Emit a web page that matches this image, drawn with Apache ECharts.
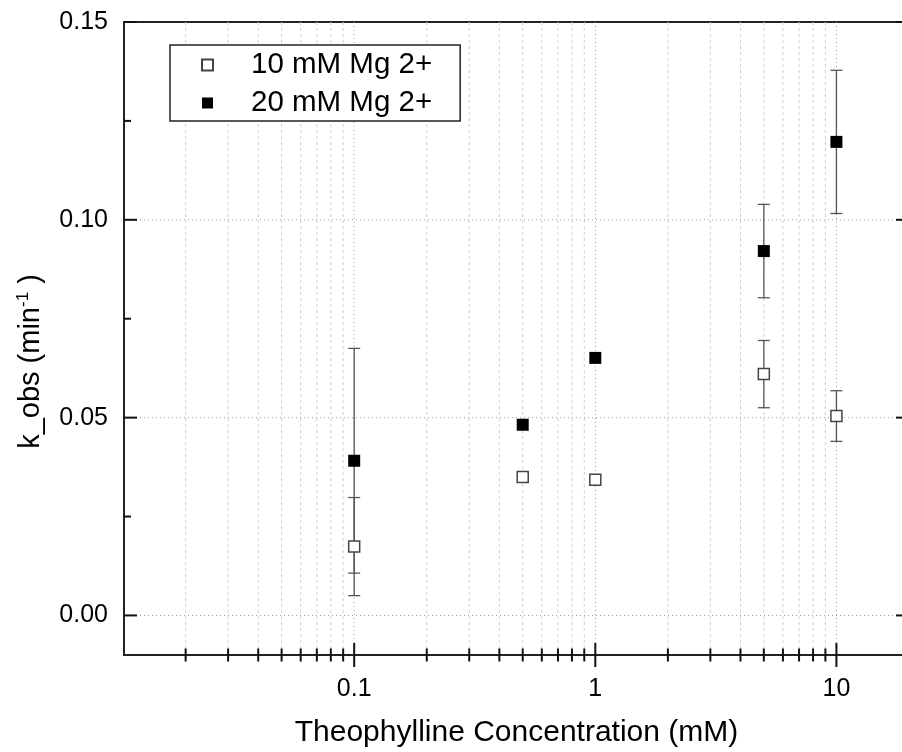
<!DOCTYPE html>
<html>
<head>
<meta charset="utf-8">
<script src="https://cdn.jsdelivr.net/npm/echarts@6/dist/echarts.min.js"></script>
<style>html,body{margin:0;padding:0;background:#fff}#c{width:902px;height:752px}</style>
</head>
<body>
<div id="c"></div>
<script>
// ---- data ----
var concentrations = [0.1, 0.5, 1, 5, 10];
var mg10 = [0.0174, 0.0350, 0.0343, 0.0610, 0.0504];
var mg10Err = [0.0124, 0, 0, 0.0085, 0.0064];
var mg20 = [0.0391, 0.0482, 0.0651, 0.0921, 0.1197];
var mg20Err = [0.0284, 0, 0, 0.0118, 0.0181];
var seriesNames = ['10 mM Mg 2+', '20 mM Mg 2+'];
var xMajorTicks = [0.1, 1, 10];
var xMinorTicks = [0.02,0.03,0.04,0.05,0.06,0.07,0.08,0.09,0.2,0.3,0.4,0.5,0.6,0.7,0.8,0.9,2,3,4,5,6,7,8,9];
var yMajorTicks = [0, 0.05, 0.10, 0.15];
var yMinorTicks = [0.025, 0.075, 0.125];
var X_MIN = 0.0111, X_MAX = 20, Y_MIN = -0.01, Y_MAX = 0.15;

var FONT = '"Liberation Sans", Arial, sans-serif';

function pts(vals) { return concentrations.map(function (c, i) { return [c, vals[i]]; }); }
function errs(vals, e) {
  var out = [];
  concentrations.forEach(function (c, i) { if (e[i] > 0) out.push([c, vals[i] - e[i], vals[i] + e[i]]); });
  return out;
}

function lineEl(x1, y1, x2, y2, style) {
  return { type: 'line', shape: { x1: x1, y1: y1, x2: x2, y2: y2 }, style: style, silent: true };
}

var chart = echarts.init(document.getElementById('c'), null, { renderer: 'canvas' });

var option = {
  animation: false,
  backgroundColor: '#fff',
  textStyle: { fontFamily: FONT, color: '#000' },
  grid: {
    left: 124, top: 22, right: -7, bottom: 97,
    containLabel: false, outerBoundsMode: 'none',
    show: true, borderColor: '#222', borderWidth: 2, backgroundColor: 'transparent'
  },
  legend: {
    orient: 'vertical', left: 170, top: 45,
    data: seriesNames,
    padding: [5, 28, 3, 31], itemGap: 8, itemWidth: 11, itemHeight: 11,
    borderColor: '#222', borderWidth: 1.5, backgroundColor: '#fff',
    textStyle: { fontSize: 29.5, lineHeight: 30, color: '#000', fontFamily: FONT, padding: [0, 0, 0, 33] },
    z: 20
  },
  xAxis: {
    type: 'log', logBase: 10, min: X_MIN, max: X_MAX,
    name: 'Theophylline Concentration (mM)',
    nameLocation: 'middle', nameGap: 63,
    nameTextStyle: { fontSize: 30, color: '#000', fontFamily: FONT },
    axisLine: { show: false },
    axisTick: { show: false },
    splitLine: { show: false },
    minorTick: { show: false }, minorSplitLine: { show: false },
    axisLabel: {
      fontSize: 25, color: '#000', margin: 22, fontFamily: FONT,
      showMinLabel: false, showMaxLabel: false,
      formatter: function (v) {
        for (var i = 0; i < xMajorTicks.length; i++) {
          if (Math.abs(v - xMajorTicks[i]) / xMajorTicks[i] < 1e-6) return String(xMajorTicks[i]);
        }
        return '';
      }
    }
  },
  yAxis: {
    type: 'value', min: Y_MIN, max: Y_MAX, splitNumber: 3,
    name: 'k_obs (min{sup|-1}{n| })',
    nameLocation: 'middle', nameGap: 74, nameRotate: 90,
    nameTextStyle: {
      fontSize: 29, color: '#000', fontFamily: FONT, lineHeight: 34,
      padding: [0, 46, 0, 0],
      rich: {
        sup: { fontSize: 17, verticalAlign: 'top', lineHeight: 20, color: '#000', fontFamily: FONT },
        n: { fontSize: 29, lineHeight: 34, color: '#000', fontFamily: FONT }
      }
    },
    axisLine: { show: false },
    axisTick: { show: false },
    splitLine: { show: false },
    axisLabel: {
      fontSize: 25, color: '#000', margin: 16, fontFamily: FONT,
      showMinLabel: false,
      formatter: function (v) {
        for (var i = 0; i < yMajorTicks.length; i++) {
          if (Math.abs(v - yMajorTicks[i]) < 1e-9) return yMajorTicks[i].toFixed(2);
        }
        return '';
      }
    }
  },
  series: [
    // vertical grid lines
    {
      type: 'custom', silent: true, z: 1, clip: false,
      data: xMinorTicks.map(function (v) { return [v, 0]; }).concat(xMajorTicks.map(function (v) { return [v, 1]; })),
      renderItem: function (params, api) {
        var x = api.value(0), major = api.value(1) === 1;
        var p0 = api.coord([x, Y_MIN]), p1 = api.coord([x, Y_MAX]);
        return lineEl(p0[0], p0[1], p1[0], p1[1], major
          ? { stroke: '#9a9a9a', lineWidth: 1, lineDash: [1, 3] }
          : { stroke: '#cfcfcf', lineWidth: 1, lineDash: [3, 3] });
      }
    },
    // horizontal grid lines
    {
      type: 'custom', silent: true, z: 1, clip: false,
      data: yMajorTicks.slice(0, 3).map(function (v) { return [X_MIN, v]; }),
      renderItem: function (params, api) {
        var y = api.value(1);
        var p0 = api.coord([X_MIN, y]), p1 = api.coord([X_MAX, y]);
        return lineEl(p0[0], p0[1], p1[0], p1[1], { stroke: '#9a9a9a', lineWidth: 1, lineDash: [1, 3] });
      }
    },
    // x-axis ticks (crossing the axis line)
    {
      type: 'custom', silent: true, z: 5, clip: false,
      data: xMinorTicks.map(function (v) { return [v, 0]; }).concat(xMajorTicks.map(function (v) { return [v, 1]; })),
      renderItem: function (params, api) {
        var x = api.value(0), len = api.value(1) === 1 ? 12 : 6.5;
        var p = api.coord([x, Y_MIN]);
        return lineEl(p[0], p[1] - len, p[0], p[1] + len, { stroke: '#111', lineWidth: 2 });
      }
    },
    // y-axis ticks (inward, left and right)
    {
      type: 'custom', silent: true, z: 5, clip: false,
      data: yMajorTicks.map(function (v) { return [X_MIN, v, 1]; }).concat(yMinorTicks.map(function (v) { return [X_MIN, v, 0]; })),
      renderItem: function (params, api) {
        var y = api.value(1), len = api.value(2) === 1 ? 13 : 7;
        var pl = api.coord([X_MIN, y]), pr = api.coord([X_MAX, y]);
        return {
          type: 'group', children: [
            lineEl(pl[0], pl[1], pl[0] + len, pl[1], { stroke: '#111', lineWidth: 2 }),
            lineEl(pr[0], pr[1], pr[0] - len, pr[1], { stroke: '#111', lineWidth: 2 })
          ]
        };
      }
    },
    // error bars
    {
      type: 'custom', silent: true, z: 6,
      data: errs(mg10, mg10Err).concat(errs(mg20, mg20Err)),
      encode: { x: 0, y: [1, 2] },
      renderItem: function (params, api) {
        var x = api.value(0);
        var lo = api.coord([x, api.value(1)]), hi = api.coord([x, api.value(2)]);
        var st = { stroke: '#555', lineWidth: 1.3 };
        return {
          type: 'group', children: [
            lineEl(lo[0], lo[1], hi[0], hi[1], st),
            lineEl(lo[0] - 6, lo[1], lo[0] + 6, lo[1], st),
            lineEl(hi[0] - 6, hi[1], hi[0] + 6, hi[1], st)
          ]
        };
      }
    },
    {
      name: seriesNames[0], type: 'scatter', z: 10,
      symbol: 'rect', symbolSize: 11,
      itemStyle: { color: '#fff', borderColor: '#444', borderWidth: 1.5, opacity: 1 },
      data: pts(mg10)
    },
    {
      name: seriesNames[1], type: 'scatter', z: 10,
      symbol: 'rect', symbolSize: 12,
      itemStyle: { color: '#000', borderColor: '#000', borderWidth: 0, opacity: 1 },
      data: pts(mg20)
    }
  ]
};
chart.setOption(option);
</script>
</body>
</html>
